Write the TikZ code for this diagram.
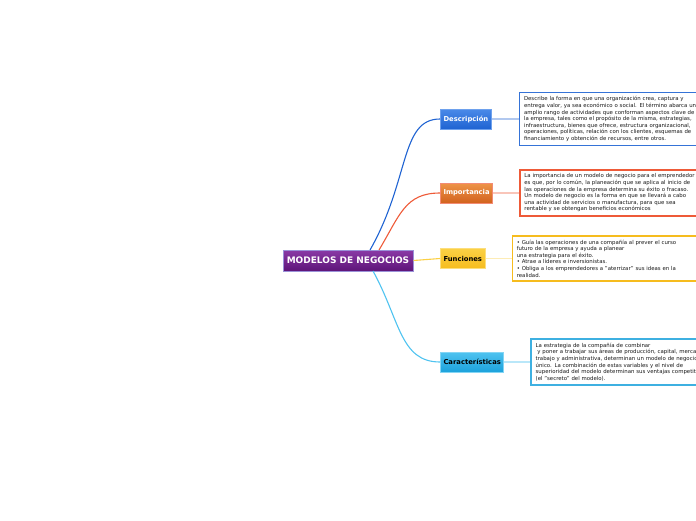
\documentclass[tikz,border=0pt]{standalone}
\usepackage{fontspec}
\setmainfont{DejaVu Sans}
\usepackage{tikz}
\usetikzlibrary{positioning}
\definecolor{mnPurple}{HTML}{5E1479}
\definecolor{mnPurpleTop}{HTML}{8A3AA6}
\definecolor{mnLavender}{HTML}{9A92D8}
\definecolor{mnBlue}{HTML}{1F63D2}
\definecolor{mnBlueTop}{HTML}{4A8AE8}
\definecolor{mnOrange}{HTML}{D2621E}
\definecolor{mnOrangeTop}{HTML}{EE9448}
\definecolor{mnRed}{HTML}{EE5A38}
\definecolor{mnYellow}{HTML}{F6BC1E}
\definecolor{mnYellowTop}{HTML}{FBD045}
\definecolor{mnCyan}{HTML}{1CA2DC}
\definecolor{mnCyanTop}{HTML}{4FC3F0}
\definecolor{mnInk}{HTML}{1A1A1A}
\tikzset{
  % Central topic
  mainbox/.style={rectangle,minimum width=130pt,minimum height=21pt,
    inner sep=2pt,top color=mnPurpleTop,bottom color=mnPurple,
    draw=mnLavender,line width=1pt,
    font=\fontsize{9}{10}\selectfont\bfseries,text=white},
  % Branch topic
  topicbox/.style={rectangle,minimum height=20pt,inner xsep=3pt,
    line width=1pt,font=\fontsize{6.8}{8}\selectfont\bfseries},
  % Note box with the long text
  notebox/.style={rectangle,fill=white,line width=1.5pt,
    text width=250pt,align=left,inner xsep=4.5pt,inner ysep=4pt,
    font=\fontsize{5.4}{6.6}\selectfont,text=mnInk},
  % Connectors
  branch/.style={line width=1.1pt},
  leaf/.style={line width=1.4pt},
}
\begin{document}
\begin{tikzpicture}[x=1pt,y=-1pt]
  \useasboundingbox (0,0) rectangle (696,520);

  % Central topic
  \node[mainbox] (main) at (348,260.5) {MODELOS DE NEGOCIOS};

  % Branch topics
  \node[topicbox,anchor=west,top color=mnBlueTop,bottom color=mnBlue,
    draw=mnBlueTop!80!white,text=white] (desc) at (440,119) {Descripción};
  \node[topicbox,anchor=west,top color=mnOrangeTop,bottom color=mnOrange,
    draw=mnRed!70!white,text=white] (imp) at (440,193) {Importancia};
  \node[topicbox,anchor=west,top color=mnYellowTop,bottom color=mnYellow,
    draw=mnYellowTop!70!white,text=black] (func) at (440,258.5) {Funciones};
  \node[topicbox,anchor=west,top color=mnCyanTop,bottom color=mnCyan,
    draw=mnCyanTop!70!white,text=black] (car) at (440,362) {Características};

  % Notes
  \node[notebox,draw=mnBlue!90!white,right=27pt of desc] (descnote)
    {Describe la forma en que una organización crea, captura y\\
     entrega valor, ya sea económico o social. El término abarca un\\
     amplio rango de actividades que conforman aspectos clave de\\
     la empresa, tales como el propósito de la misma, estrategias,\\
     infraestructura, bienes que ofrece, estructura organizacional,\\
     operaciones, políticas, relación con los clientes, esquemas de\\
     financiamiento y obtención de recursos, entre otros.};
  \node[notebox,draw=mnRed,right=26pt of imp] (impnote)
    {La importancia de un modelo de negocio para el emprendedor\\
     es que, por lo común, la planeación que se aplica al inicio de\\
     las operaciones de la empresa determina su éxito o fracaso.\\
     Un modelo de negocio es la forma en que se llevará a cabo\\
     una actividad de servicios o manufactura, para que sea\\
     rentable y se obtengan beneficios económicos};
  \node[notebox,draw=mnYellow,right=26pt of func] (funcnote)
    {• Guía las operaciones de una compañía al prever el curso\\
     futuro de la empresa y ayuda a planear\\
     una estrategia para el éxito.\\
     • Atrae a líderes e inversionistas.\\
     • Obliga a los emprendedores a "aterrizar" sus ideas en la\\
     realidad.};
  \node[notebox,draw=mnCyan!85!white,right=26pt of car] (carnote)
    {La estrategia de la compañía de combinar\\
     \ y poner a trabajar sus áreas de producción, capital, mercadotecnia,\\
     trabajo y administrativa, determinan un modelo de negocio\\
     único. La combinación de estas variables y el nivel de\\
     superioridad del modelo determinan sus ventajas competitivas\\
     (el "secreto" del modelo).};

  % Branches from the central topic
  \coordinate (mainb) at (370,250);
  \coordinate (maino) at (379,250);
  \coordinate (mainc) at (373,271);
  \draw[branch,mnBlue] (mainb) .. controls (410,180) and (400,119) .. (desc.west);
  \draw[branch,mnRed] (maino) .. controls (400,215) and (405,193) .. (imp.west);
  \draw[branch,mnYellowTop] (main.east) -- (func.west);
  \draw[branch,mnCyanTop] (mainc) .. controls (400,320) and (400,362) .. (car.west);

  % Topic to note
  \draw[leaf,mnBlue!35] (desc.east) -- (descnote.west);
  \draw[leaf,mnRed!35] (imp.east) -- (impnote.west);
  \draw[leaf,mnYellowTop!40] (func.east) -- (funcnote.west);
  \draw[leaf,mnCyanTop!40] (car.east) -- (carnote.west);
\end{tikzpicture}
\end{document}
